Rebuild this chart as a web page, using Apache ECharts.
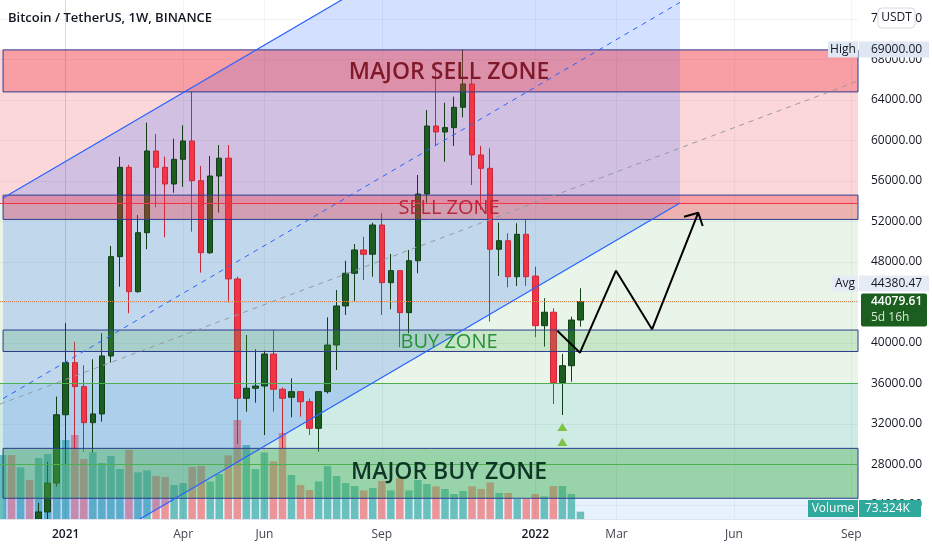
<!DOCTYPE html>
<html>
<head>
<meta charset="utf-8">
<script src="https://cdn.jsdelivr.net/npm/echarts@6.0.0/dist/echarts.min.js"></script>
<style>
html,body{margin:0;padding:0;background:#ffffff;}
#chart{width:932px;height:550px;}
</style>
</head>
<body>
<div id="chart"></div>
<script>
// ---------------- data ----------------
// week index: 0 = week of 4 Jan 2021
const weeks  = [-3,-2,-1,0,1,2,3,4,5,6,7,8,9,10,11,12,13,14,15,16,17,18,19,20,21,22,23,24,25,26,27,28,29,30,31,32,33,34,35,36,37,38,39,40,41,42,43,44,45,46,47,48,49,50,51,52,53,54,55,56,57];
const opens  = [19200,23300,26150,32900,38050,35680,32120,32980,38710,48520,57350,45060,50890,58960,57350,55700,58140,59950,56030,48910,56490,58250,46320,34530,35520,35740,38900,35420,34630,35180,34190,31560,35180,39790,43650,46880,49180,48760,51650,45950,47140,42990,48120,54710,61430,60840,61270,63280,65580,58570,57250,49250,50100,46540,50730,46600,41700,43030,36080,37750,42260];
const closes = [23300,26150,32900,38050,35680,32120,32980,38710,48520,57350,45060,50890,58960,57350,55700,58140,59950,56030,48910,56490,58250,46320,34530,35520,35740,38900,35420,34530,35180,34190,31560,35180,39790,43650,46880,49180,48760,51650,45950,47140,42990,48120,54710,61430,60840,61270,63280,65580,58570,57250,49250,50100,46540,50730,46540,41700,43030,36080,37750,42260,44079.61];
const lows   = [19000,22000,25800,28000,29500,29250,29150,32220,38050,45550,42930,44960,49250,53400,50440,54840,55430,50990,46940,48790,52870,43990,30000,33200,34090,30900,33200,29590,32650,32710,30900,29250,35000,37320,42760,44090,46220,46540,42760,43320,39570,40950,46880,53790,59460,57900,59460,62290,55600,53130,42100,46610,45490,45620,45620,40560,39630,33960,32880,36170,41610];
const highs  = [24200,28250,34700,41950,40120,37790,38380,40950,49580,58400,57600,52640,61760,60640,58400,60180,61500,64850,57480,58470,59550,59550,46550,40780,39370,39240,41280,35600,36500,35250,34500,35200,42530,45230,48120,49770,50490,51880,52810,48790,47200,49180,56590,63010,67290,63730,64330,69000,66300,59460,59230,51880,50830,51820,52140,47530,44410,43420,38910,42590,45400];

// volume (thousands), one bar per week
const volumeWeeks = [-7,-6,-5,-4,-3,-2,-1,0,1,2,3,4,5,6,7,8,9,10,11,12,13,14,15,16,17,18,19,20,21,22,23,24,25,26,27,28,29,30,31,32,33,34,35,36,37,38,39,40,41,42,43,44,45,46,47,48,49,50,51,52,53,54,55,56,57];
const volumes = [640,640,516,390,610,650,790,790,840,600,666,560,630,500,690,466,486,430,420,340,360,520,530,376,450,636,990,740,500,666,576,860,440,340,290,376,530,430,360,330,286,310,380,286,410,286,390,350,326,300,250,280,326,300,366,260,260,200,200,250,226,330,330,250,73.324];
const volumeUp = [1,0,1,0,1,1,1,1,0,0,1,1,1,1,0,1,1,0,0,1,1,0,0,1,1,0,0,1,1,1,0,0,1,0,0,1,1,1,1,1,0,1,0,1,0,1,1,1,0,1,1,1,0,0,0,1,0,1,0,0,1,0,1,1,1];

// axis ticks
const priceTicks = [24000,28000,32000,36000,40000,44000,48000,52000,56000,60000,64000,68000,72000];
const timeTicks = [0,13,22,35,52,61,74,87];
const timeTickLabels = ['2021','Apr','Jun','Sep','2022','Mar','Jun','Sep'];

// drawings (price levels / points in week-index, price)
const shortStopArea   = [53750, 69000];
const profitArea      = [36000, 53750];
const targetArea      = [24650, 36000];
const lowerArea       = [22600, 24650];
const majorSellZone   = [64800, 68950];
const sellZone        = [52200, 54600];
const sellZoneMid     = 53750;
const buyZone         = [39150, 41270];
const majorBuyZone    = [24650, 29580];
const majorBuyMid     = 28030;
const targetLine      = 36000;
const zoneStartWeek   = -6.94;
const channelUpper    = [[-6.94, 54310], [68.03, 93460]];
const channelLower    = [[-6.94, 14680], [68.03, 53830]];
const channelMedian   = [[-6.94, 34495], [68.03, 73645]];
const greyTrend       = [[-7.28, 33945], [87.74, 65877]];
const projectionPath  = [[54.44, 41207], [56.95, 39033], [60.94, 47135], [64.93, 41345], [70.05, 52865]];
const projectionHead  = [[68.47, 52470], [70.05, 52865], [70.54, 51551]];
const signalPoints    = [[55, 31700], [55, 30200]];
const zoneLabels = [
  {text:'MAJOR SELL ZONE', at:[42.45, 66766], kind:'majorSell'},
  {text:'SELL ZONE',       at:[42.45, 53330], kind:'sell'},
  {text:'BUY ZONE',        at:[42.45, 40090], kind:'buy'},
  {text:'MAJOR BUY ZONE',  at:[42.45, 27246], kind:'majorBuy'}
];
const lastPrice = 44079.61;
const avgPrice = 44380.47;
const highPrice = 69000;
const lastVolume = '73.324K';
const timeLeft = '5d 16h';
const title = 'Bitcoin / TetherUS, 1W, BINANCE';

// ---------------- chart ----------------
const FONT = "'Open Sans', 'Noto Sans', sans-serif";
const X_MIN = -7.28, X_MAX = 87.74, Y_MIN = 22600, Y_MAX = 73880;
const chart = echarts.init(document.getElementById('chart'));

const candleData = weeks.map((w, i) => [w, opens[i], closes[i], lows[i], highs[i]]);
const volumeData = volumeWeeks.map((w, i) => ({
  value: [w, volumes[i]],
  itemStyle: {color: volumeUp[i] ? 'rgba(38,166,154,0.65)' : 'rgba(239,83,80,0.58)'}
}));

const labelStyles = {
  majorSell: {color:'#7f1a2a', fontSize:23, fontWeight:600},
  sell:      {color:'#b8263c', fontSize:20, fontWeight:400},
  buy:       {color:'#27903a', fontSize:20, fontWeight:400},
  majorBuy:  {color:'#0d3624', fontSize:23, fontWeight:600}
};

function area(x0, x1, y0, y1, style) {
  return [{coord:[x0, y0], itemStyle: style}, {coord:[x1, y1]}];
}
const zoneBorder = {borderColor:'#2d3b8e', borderWidth:1};

const option = {
  animation: false,
  backgroundColor: '#ffffff',
  grid: {left:0, right:74, top:0, bottom:31, outerBoundsMode:'none', containLabel:false},
  xAxis: {
    type: 'value', min: X_MIN, max: X_MAX, z: 20,
    axisLine: {show:true, lineStyle:{color:'#e0e3eb'}},
    axisTick: {show:false, customValues: timeTicks},
    splitLine: {show:true, lineStyle:{color:'rgba(42,46,57,0.05)'}},
    axisLabel: {
      customValues: timeTicks, margin: 10,
      formatter: v => {
        const t = timeTickLabels[timeTicks.indexOf(v)];
        return /^\d{4}$/.test(t) ? '{y|' + t + '}' : '{m|' + t + '}';
      },
      rich: {
        y: {color:'#131722', fontSize:12, fontFamily:FONT, fontWeight:600},
        m: {color:'#434651', fontSize:12, fontFamily:FONT}
      }
    }
  },
  yAxis: [{
    type: 'value', position: 'right', min: Y_MIN, max: Y_MAX,
    axisLine: {show:true, lineStyle:{color:'#e0e3eb'}},
    axisTick: {show:false, customValues: priceTicks},
    splitLine: {show:true, lineStyle:{color:'rgba(42,46,57,0.06)'}},
    axisLabel: {customValues: priceTicks, margin: 13, color:'#131722', fontSize:12, fontFamily:FONT,
                formatter: v => v.toFixed(2)}
  }, {
    type: 'value', min: 0, max: 5190, show: false,
    splitLine: {show:false}
  }],
  series: [
    // background regions (position tool)
    {
      type: 'line', data: [], silent: true,
      markArea: {
        silent: true, z: 0.5,
        data: [
          area(X_MIN, X_MAX, shortStopArea[0], shortStopArea[1], {color:'rgba(242,54,69,0.2)'}),
          area(X_MIN, X_MAX, profitArea[0], profitArea[1], {color:'rgba(76,175,80,0.13)'}),
          area(X_MIN, X_MAX, targetArea[0], targetArea[1], {color:'rgba(8,153,129,0.2)'}),
          area(X_MIN, X_MAX, lowerArea[0], lowerArea[1], {color:'rgba(33,130,243,0.11)'})
        ]
      }
    },
    // volume
    {
      type: 'bar', xAxisIndex: 0, yAxisIndex: 1, z: 1, barWidth: 7.5,
      data: volumeData, silent: true
    },
    // channel fill
    {
      type: 'custom', coordinateSystem: 'cartesian2d', xAxisIndex: 0, yAxisIndex: 0,
      z: 1.5, clip: true, silent: true,
      data: [[0, 40000]],
      renderItem: (params, api) => {
        const pts = [channelUpper[0], channelUpper[1], channelLower[1], channelLower[0]].map(p => api.coord(p));
        return {type:'polygon', shape:{points:pts}, style:{fill:'rgba(41,98,255,0.2)'}};
      }
    },
    // candles
    {
      type: 'candlestick', z: 2, barWidth: 6, clip: true,
      encode: {x: 0, y: [1, 2, 3, 4]},
      data: candleData,
      itemStyle: {color:'#1b5e20', color0:'#f23645', borderColor:'#123f18', borderColor0:'#c9283b', borderWidth:1}
    },
    // zones
    {
      type: 'line', data: [], silent: true,
      markArea: {
        silent: true, z: 3,
        data: [
          area(zoneStartWeek, X_MAX, majorSellZone[0], majorSellZone[1], Object.assign({color:'rgba(242,54,69,0.35)'}, zoneBorder)),
          area(zoneStartWeek, X_MAX, sellZone[0], sellZone[1], Object.assign({color:'rgba(242,54,69,0.35)'}, zoneBorder)),
          area(zoneStartWeek, X_MAX, buyZone[0], buyZone[1], Object.assign({color:'rgba(76,175,80,0.2)'}, zoneBorder)),
          area(zoneStartWeek, X_MAX, majorBuyZone[0], majorBuyZone[1], Object.assign({color:'rgba(76,175,80,0.4)'}, zoneBorder))
        ]
      },
      markLine: {
        silent: true, z: 4, symbol: 'none', label: {show:false},
        data: [
          {yAxis: sellZoneMid, lineStyle:{color:'#f23645', width:1, type:'solid'}},
          {yAxis: majorBuyMid, lineStyle:{color:'#4caf50', width:1, type:'solid'}},
          {yAxis: targetLine, lineStyle:{color:'#4caf50', width:1, type:'solid'}},
          {yAxis: lastPrice, lineStyle:{color:'#d9824f', width:1, type:'dotted'}}
        ]
      }
    },
    // channel lines
    {type:'line', z:4, silent:true, symbol:'none', data: channelUpper, lineStyle:{color:'#2962ff', width:1.2}},
    {type:'line', z:4, silent:true, symbol:'none', data: channelLower, lineStyle:{color:'#2962ff', width:1.2}},
    {type:'line', z:4, silent:true, symbol:'none', data: channelMedian, lineStyle:{color:'#2962ff', width:1, type:[5,5]}},
    {type:'line', z:4, silent:true, symbol:'none', data: greyTrend, lineStyle:{color:'#9598a1', width:1, type:[5,5]}},
    // projection arrow
    {type:'line', z:5, silent:true, symbol:'none', data: projectionPath, lineStyle:{color:'#000000', width:2}},
    {type:'line', z:5, silent:true, symbol:'none', data: projectionHead, lineStyle:{color:'#000000', width:2}},
    // signals
    {type:'scatter', z:5, silent:true, symbol:'triangle', symbolSize:[10,8], data: signalPoints,
     itemStyle:{color:'#7cc243', opacity:1}},
    // zone labels
    {
      type:'scatter', z:6, silent:true, symbolSize:1, itemStyle:{color:'rgba(0,0,0,0)', opacity:1},
      data: zoneLabels.map(z => ({
        value: z.at,
        label: Object.assign({show:true, position:'inside', formatter: z.text, fontFamily: FONT,
                              align:'center', verticalAlign:'middle'}, labelStyles[z.kind])
      }))
    }
  ]
};
chart.setOption(option);

// ---------------- overlays: legend title and price-scale badges ----------------
const py = v => chart.convertToPixel({yAxisIndex: 0}, v);
const rect = chart.getModel().getComponent('grid', 0).coordinateSystem.getRect();
const g = [];
function box(x, y, w, h, fill, stroke, r, z) {
  g.push({type:'rect', z: z || 100, silent:true, shape:{x:x, y:y, width:w, height:h, r:r || 0},
          style:{fill:fill, stroke:stroke || null, lineWidth: stroke ? 1 : 0}});
}
function txt(x, y, text, fill, font, align) {
  g.push({type:'text', z:101, silent:true, x:x, y:y,
          style:{text:text, fill:fill, font:font, align:align || 'left', verticalAlign:'middle'}});
}
const F12 = "12px 'Open Sans', 'Noto Sans', sans-serif";

// time-scale strip: keeps candles that run below the pane from spilling into it
box(0, rect.y + rect.height + 0.5, rect.width, 550 - rect.y - rect.height, '#ffffff', null, 0, 10);

txt(8, 18, title, '#131722', "600 13px 'Open Sans', 'Noto Sans', sans-serif");

// USDT badge
box(878, 8, 37, 20, '#ffffff', '#d6d9e0', 4);
txt(896.5, 18, 'USDT', '#131722', F12, 'center');

// High
const yH = py(highPrice);
box(828, yH - 8, 30, 16, '#dfe7f3');
txt(843, yH, 'High', '#131722', F12, 'center');
box(859, yH - 8, 70, 16, '#dfe7f3');
txt(871, yH, highPrice.toFixed(2), '#131722', F12);

// current price + avg
const yL = py(lastPrice);
box(832, yL - 26, 26, 16, '#e6ecf6');
txt(845, yL - 18, 'Avg', '#131722', F12, 'center');
box(859, yL - 26, 70, 16, '#e6ecf6');
txt(871, yL - 18, avgPrice.toFixed(2), '#131722', F12);
box(861, yL - 8, 66, 33, '#1b5e20', null, 2);
txt(871, yL, lastPrice.toFixed(2), '#ffffff', "600 12px 'Open Sans', 'Noto Sans', sans-serif");
txt(871, yL + 16, timeLeft, '#d5e8d4', F12);

// Volume badge
box(808, 500, 50, 17, '#2fa99b');
txt(833, 508.5, 'Volume', '#ffffff', F12, 'center');
box(859, 500, 62, 17, '#2fa99b');
txt(865, 508.5, lastVolume, '#ffffff', F12);

chart.setOption({graphic: {elements: g}});
</script>
</body>
</html>
